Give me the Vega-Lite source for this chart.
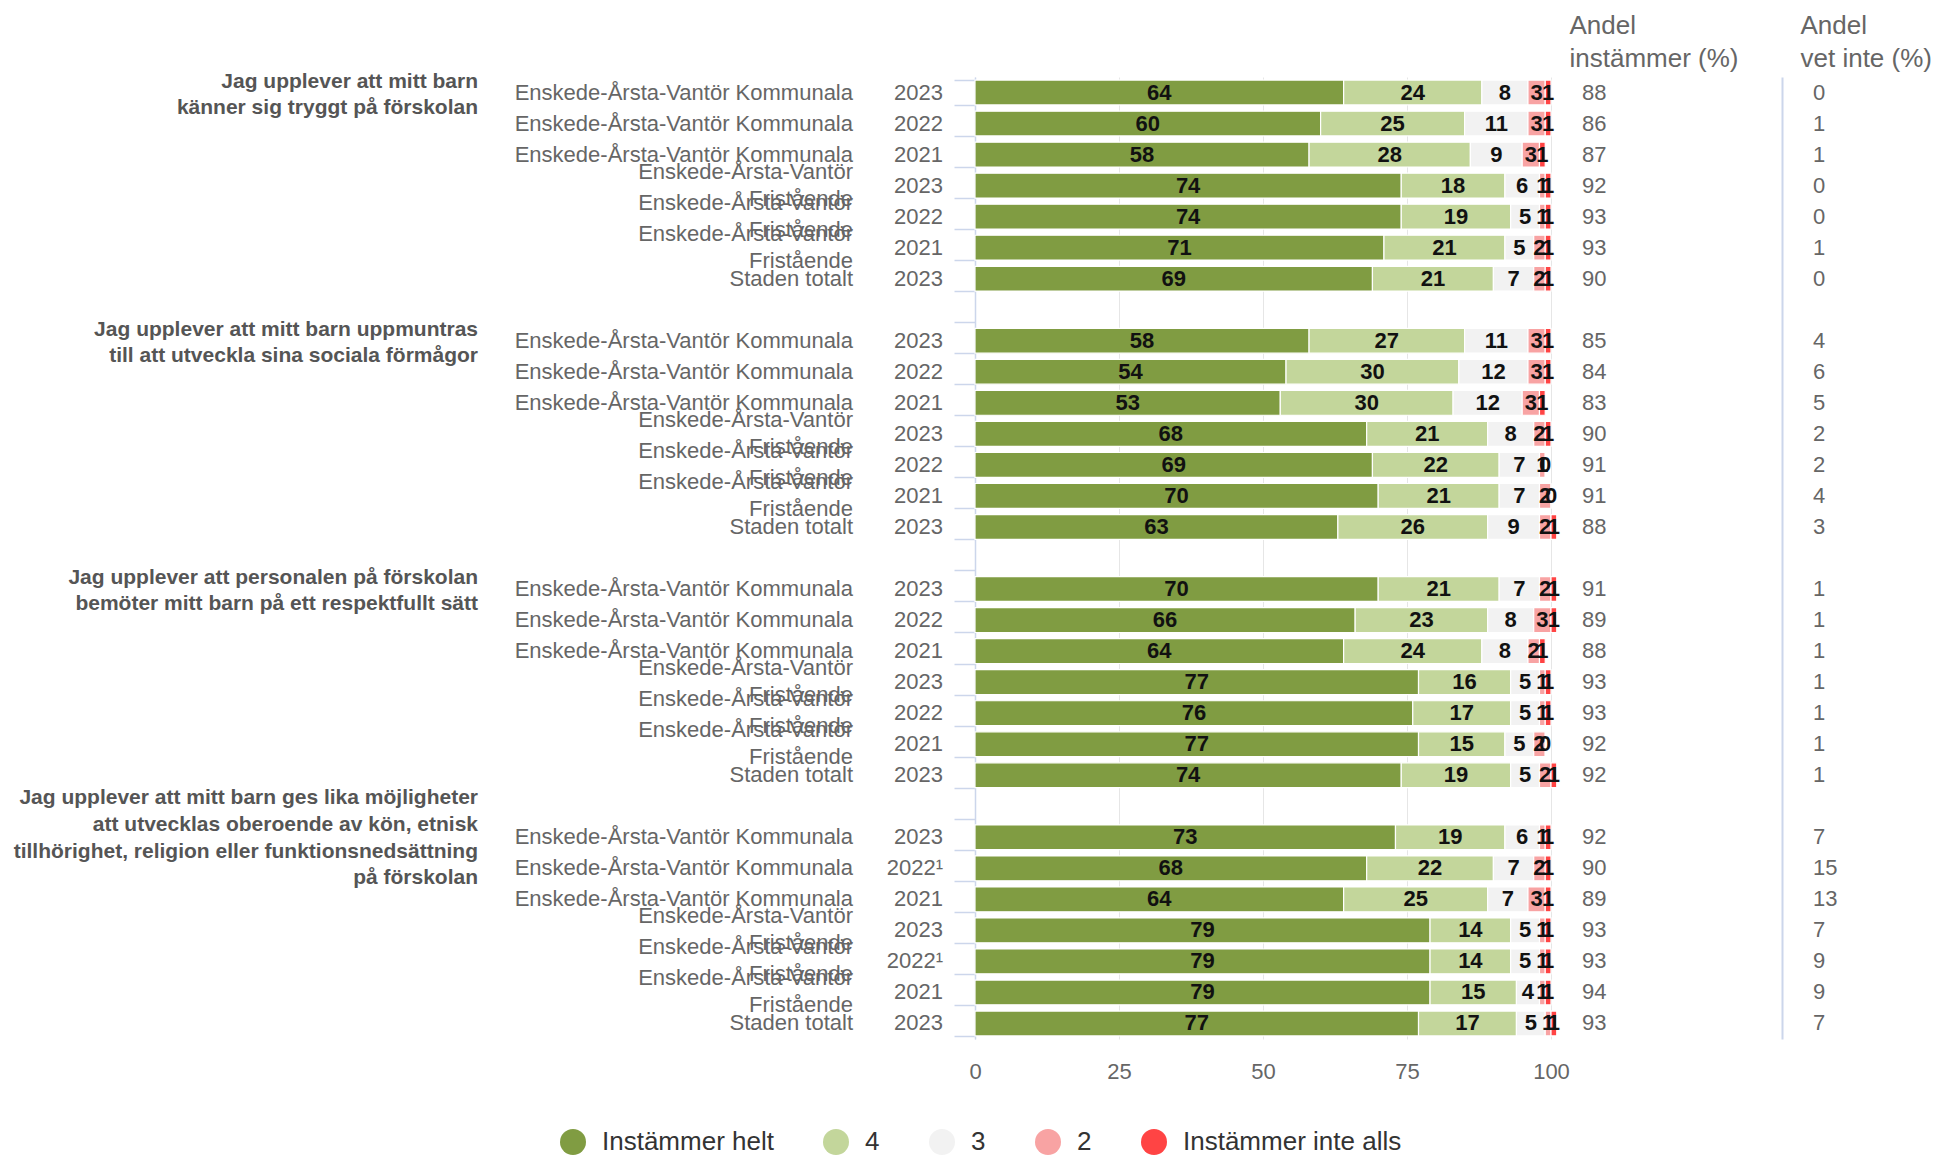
{
  "$schema": "https://vega.github.io/schema/vega-lite/v6.json",
  "autosize": {"type": "none"},
  "padding": {"left": 975, "top": 77, "right": 385, "bottom": 119},
  "width": 576,
  "height": 962,
  "background": "white",
  "config": {
    "view": {"stroke": null},
    "font": "Liberation Sans",
    "axis": {"labelFont": "Liberation Sans"},
    "legend": {"labelFont": "Liberation Sans"},
    "text": {"font": "Liberation Sans"}
  },
  "datasets": {
    "skala": [
      {"alternativ": "Instämmer helt", "svar": 5},
      {"alternativ": "4", "svar": 4},
      {"alternativ": "3", "svar": 3},
      {"alternativ": "2", "svar": 2},
      {"alternativ": "Instämmer inte alls", "svar": 1}
    ],
    "fragor": [
      {"rad": "r1", "rader_text": 2, "fraga": "Jag upplever att mitt barn\nkänner sig tryggt på förskolan"},
      {"rad": "r8", "rader_text": 2, "fraga": "Jag upplever att mitt barn uppmuntras\ntill att utveckla sina sociala förmågor"},
      {"rad": "r15", "rader_text": 2, "fraga": "Jag upplever att personalen på förskolan\nbemöter mitt barn på ett respektfullt sätt"},
      {"rad": "r22", "rader_text": 4, "fraga": "Jag upplever att mitt barn ges lika möjligheter\natt utvecklas oberoende av kön, etnisk\ntillhörighet, religion eller funktionsnedsättning\npå förskolan"}
    ],
    "rader": [
      {"rad": "r1", "enhet": "Enskede-Årsta-Vantör Kommunala", "ar": "2023", "Instämmer helt": 64, "4": 24, "3": 8, "2": 3, "Instämmer inte alls": 1, "Andel instämmer (%)": 88, "Andel vet inte (%)": 0},
      {"rad": "r2", "enhet": "Enskede-Årsta-Vantör Kommunala", "ar": "2022", "Instämmer helt": 60, "4": 25, "3": 11, "2": 3, "Instämmer inte alls": 1, "Andel instämmer (%)": 86, "Andel vet inte (%)": 1},
      {"rad": "r3", "enhet": "Enskede-Årsta-Vantör Kommunala", "ar": "2021", "Instämmer helt": 58, "4": 28, "3": 9, "2": 3, "Instämmer inte alls": 1, "Andel instämmer (%)": 87, "Andel vet inte (%)": 1},
      {"rad": "r4", "enhet": "Enskede-Årsta-Vantör Fristående", "ar": "2023", "Instämmer helt": 74, "4": 18, "3": 6, "2": 1, "Instämmer inte alls": 1, "Andel instämmer (%)": 92, "Andel vet inte (%)": 0},
      {"rad": "r5", "enhet": "Enskede-Årsta-Vantör Fristående", "ar": "2022", "Instämmer helt": 74, "4": 19, "3": 5, "2": 1, "Instämmer inte alls": 1, "Andel instämmer (%)": 93, "Andel vet inte (%)": 0},
      {"rad": "r6", "enhet": "Enskede-Årsta-Vantör Fristående", "ar": "2021", "Instämmer helt": 71, "4": 21, "3": 5, "2": 2, "Instämmer inte alls": 1, "Andel instämmer (%)": 93, "Andel vet inte (%)": 1},
      {"rad": "r7", "enhet": "Staden totalt", "ar": "2023", "Instämmer helt": 69, "4": 21, "3": 7, "2": 2, "Instämmer inte alls": 1, "Andel instämmer (%)": 90, "Andel vet inte (%)": 0},
      {"rad": "r8", "enhet": "Enskede-Årsta-Vantör Kommunala", "ar": "2023", "Instämmer helt": 58, "4": 27, "3": 11, "2": 3, "Instämmer inte alls": 1, "Andel instämmer (%)": 85, "Andel vet inte (%)": 4},
      {"rad": "r9", "enhet": "Enskede-Årsta-Vantör Kommunala", "ar": "2022", "Instämmer helt": 54, "4": 30, "3": 12, "2": 3, "Instämmer inte alls": 1, "Andel instämmer (%)": 84, "Andel vet inte (%)": 6},
      {"rad": "r10", "enhet": "Enskede-Årsta-Vantör Kommunala", "ar": "2021", "Instämmer helt": 53, "4": 30, "3": 12, "2": 3, "Instämmer inte alls": 1, "Andel instämmer (%)": 83, "Andel vet inte (%)": 5},
      {"rad": "r11", "enhet": "Enskede-Årsta-Vantör Fristående", "ar": "2023", "Instämmer helt": 68, "4": 21, "3": 8, "2": 2, "Instämmer inte alls": 1, "Andel instämmer (%)": 90, "Andel vet inte (%)": 2},
      {"rad": "r12", "enhet": "Enskede-Årsta-Vantör Fristående", "ar": "2022", "Instämmer helt": 69, "4": 22, "3": 7, "2": 1, "Instämmer inte alls": 0, "Andel instämmer (%)": 91, "Andel vet inte (%)": 2},
      {"rad": "r13", "enhet": "Enskede-Årsta-Vantör Fristående", "ar": "2021", "Instämmer helt": 70, "4": 21, "3": 7, "2": 2, "Instämmer inte alls": 0, "Andel instämmer (%)": 91, "Andel vet inte (%)": 4},
      {"rad": "r14", "enhet": "Staden totalt", "ar": "2023", "Instämmer helt": 63, "4": 26, "3": 9, "2": 2, "Instämmer inte alls": 1, "Andel instämmer (%)": 88, "Andel vet inte (%)": 3},
      {"rad": "r15", "enhet": "Enskede-Årsta-Vantör Kommunala", "ar": "2023", "Instämmer helt": 70, "4": 21, "3": 7, "2": 2, "Instämmer inte alls": 1, "Andel instämmer (%)": 91, "Andel vet inte (%)": 1},
      {"rad": "r16", "enhet": "Enskede-Årsta-Vantör Kommunala", "ar": "2022", "Instämmer helt": 66, "4": 23, "3": 8, "2": 3, "Instämmer inte alls": 1, "Andel instämmer (%)": 89, "Andel vet inte (%)": 1},
      {"rad": "r17", "enhet": "Enskede-Årsta-Vantör Kommunala", "ar": "2021", "Instämmer helt": 64, "4": 24, "3": 8, "2": 2, "Instämmer inte alls": 1, "Andel instämmer (%)": 88, "Andel vet inte (%)": 1},
      {"rad": "r18", "enhet": "Enskede-Årsta-Vantör Fristående", "ar": "2023", "Instämmer helt": 77, "4": 16, "3": 5, "2": 1, "Instämmer inte alls": 1, "Andel instämmer (%)": 93, "Andel vet inte (%)": 1},
      {"rad": "r19", "enhet": "Enskede-Årsta-Vantör Fristående", "ar": "2022", "Instämmer helt": 76, "4": 17, "3": 5, "2": 1, "Instämmer inte alls": 1, "Andel instämmer (%)": 93, "Andel vet inte (%)": 1},
      {"rad": "r20", "enhet": "Enskede-Årsta-Vantör Fristående", "ar": "2021", "Instämmer helt": 77, "4": 15, "3": 5, "2": 2, "Instämmer inte alls": 0, "Andel instämmer (%)": 92, "Andel vet inte (%)": 1},
      {"rad": "r21", "enhet": "Staden totalt", "ar": "2023", "Instämmer helt": 74, "4": 19, "3": 5, "2": 2, "Instämmer inte alls": 1, "Andel instämmer (%)": 92, "Andel vet inte (%)": 1},
      {"rad": "r22", "enhet": "Enskede-Årsta-Vantör Kommunala", "ar": "2023", "Instämmer helt": 73, "4": 19, "3": 6, "2": 1, "Instämmer inte alls": 1, "Andel instämmer (%)": 92, "Andel vet inte (%)": 7},
      {"rad": "r23", "enhet": "Enskede-Årsta-Vantör Kommunala", "ar": "2022¹", "Instämmer helt": 68, "4": 22, "3": 7, "2": 2, "Instämmer inte alls": 1, "Andel instämmer (%)": 90, "Andel vet inte (%)": 15},
      {"rad": "r24", "enhet": "Enskede-Årsta-Vantör Kommunala", "ar": "2021", "Instämmer helt": 64, "4": 25, "3": 7, "2": 3, "Instämmer inte alls": 1, "Andel instämmer (%)": 89, "Andel vet inte (%)": 13},
      {"rad": "r25", "enhet": "Enskede-Årsta-Vantör Fristående", "ar": "2023", "Instämmer helt": 79, "4": 14, "3": 5, "2": 1, "Instämmer inte alls": 1, "Andel instämmer (%)": 93, "Andel vet inte (%)": 7},
      {"rad": "r26", "enhet": "Enskede-Årsta-Vantör Fristående", "ar": "2022¹", "Instämmer helt": 79, "4": 14, "3": 5, "2": 1, "Instämmer inte alls": 1, "Andel instämmer (%)": 93, "Andel vet inte (%)": 9},
      {"rad": "r27", "enhet": "Enskede-Årsta-Vantör Fristående", "ar": "2021", "Instämmer helt": 79, "4": 15, "3": 4, "2": 1, "Instämmer inte alls": 1, "Andel instämmer (%)": 94, "Andel vet inte (%)": 9},
      {"rad": "r28", "enhet": "Staden totalt", "ar": "2023", "Instämmer helt": 77, "4": 17, "3": 5, "2": 1, "Instämmer inte alls": 1, "Andel instämmer (%)": 93, "Andel vet inte (%)": 7}
    ]
  },
  "encoding": {
    "y": {
      "field": "rad",
      "type": "nominal",
      "sort": null,
      "scale": {
        "domain": ["r1","r2","r3","r4","r5","r6","r7","g1","r8","r9","r10","r11","r12","r13","r14","g2","r15","r16","r17","r18","r19","r20","r21","g3","r22","r23","r24","r25","r26","r27","r28"],
        "paddingInner": 0.2,
        "paddingOuter": 0.1
      },
      "axis": {
        "title": null,
        "labels": false,
        "ticks": true,
        "tickBand": "extent",
        "tickSize": 21,
        "tickColor": "#ccd6eb",
        "tickWidth": 1.5,
        "domain": true,
        "domainColor": "#ccd6eb",
        "domainWidth": 1.5,
        "grid": false
      }
    }
  },
  "resolve": {"scale": {"x": "independent"}, "axis": {"x": "independent"}},
  "layer": [
    {
      "layer": [
        {
          "data": {"name": "rader"},
          "transform": [
            {"fold": ["Instämmer helt", "4", "3", "2", "Instämmer inte alls"], "as": ["alternativ", "andel"]},
            {"lookup": "alternativ", "from": {"data": {"name": "skala"}, "key": "alternativ", "fields": ["svar"]}}
          ],
          "mark": {"type": "bar", "stroke": "white", "strokeWidth": 1.2},
          "encoding": {
            "x": {
              "field": "andel",
              "type": "quantitative",
              "stack": "zero",
              "scale": {"domain": [0, 100], "nice": false},
              "axis": {
                "orient": "bottom",
                "title": null,
                "values": [0, 25, 50, 75, 100],
                "grid": true,
                "gridColor": "#e6e6e6",
                "domain": false,
                "ticks": false,
                "labelFlush": false,
                "labelFontSize": 22,
                "labelColor": "#666666",
                "labelPadding": 22
              }
            },
            "color": {
              "field": "alternativ",
              "type": "nominal",
              "scale": {
                "domain": ["Instämmer helt", "4", "3", "2", "Instämmer inte alls"],
                "range": ["#809c42", "#c3d69b", "#f2f2f2", "#f8a3a3", "#ff4444"]
              },
              "legend": {
                "title": null,
                "orient": "none",
                "legendX": -415,
                "legendY": 1052,
                "direction": "horizontal",
                "symbolType": "circle",
                "symbolSize": 676,
                "symbolStrokeWidth": 0,
                "symbolOpacity": 1,
                "labelFontSize": 26,
                "labelLimit": 400,
                "labelColor": "#333333",
                "labelOffset": 16,
                "columnPadding": 49
              }
            },
            "order": {"field": "svar", "sort": "descending"}
          }
        },
        {
          "data": {"name": "rader"},
          "transform": [
            {"fold": ["Instämmer helt", "4", "3", "2", "Instämmer inte alls"], "as": ["alternativ", "andel"]},
            {"lookup": "alternativ", "from": {"data": {"name": "skala"}, "key": "alternativ", "fields": ["svar"]}}
          ],
          "mark": {"type": "text", "fontSize": 22, "fontWeight": "bold", "color": "#111111", "baseline": "middle", "align": "center"},
          "encoding": {
            "x": {"field": "andel", "type": "quantitative", "stack": "zero", "bandPosition": 0.5},
            "text": {"field": "andel", "type": "quantitative"},
            "order": {"field": "svar", "sort": "descending"}
          }
        },
        {
          "data": {"name": "fragor"},
          "transform": [{"filter": "datum.rader_text == 2"}],
          "mark": {"type": "text", "align": "right", "baseline": "middle", "dx": -497, "dy": -11, "fontSize": 21, "fontWeight": "bold", "color": "#555555", "lineBreak": "\n", "lineHeight": 26},
          "encoding": {
            "x": {"datum": 0, "type": "quantitative"},
            "text": {"field": "fraga", "type": "nominal"}
          }
        },
        {
          "data": {"name": "fragor"},
          "transform": [{"filter": "datum.rader_text == 4"}],
          "mark": {"type": "text", "align": "right", "baseline": "middle", "dx": -497, "dy": -39, "fontSize": 21, "fontWeight": "bold", "color": "#555555", "lineBreak": "\n", "lineHeight": 26.7},
          "encoding": {
            "x": {"datum": 0, "type": "quantitative"},
            "text": {"field": "fraga", "type": "nominal"}
          }
        },
        {
          "data": {"name": "rader"},
          "transform": [{"filter": "datum.enhet != 'Enskede-Årsta-Vantör Fristående'"}],
          "mark": {"type": "text", "align": "right", "baseline": "middle", "dx": -122, "fontSize": 22, "color": "#666666"},
          "encoding": {
            "x": {"datum": 0, "type": "quantitative"},
            "text": {"field": "enhet", "type": "nominal"}
          }
        },
        {
          "data": {"name": "rader"},
          "transform": [{"filter": "datum.enhet == 'Enskede-Årsta-Vantör Fristående'"}],
          "mark": {"type": "text", "align": "right", "baseline": "middle", "dx": -122, "dy": -14, "fontSize": 22, "color": "#666666", "lineBreak": " ", "lineHeight": 27},
          "encoding": {
            "x": {"datum": 0, "type": "quantitative"},
            "text": {"field": "enhet", "type": "nominal"}
          }
        },
        {
          "data": {"name": "rader"},
          "mark": {"type": "text", "align": "right", "baseline": "middle", "dx": -32, "fontSize": 22, "color": "#666666"},
          "encoding": {
            "x": {"datum": 0, "type": "quantitative"},
            "text": {"field": "ar", "type": "nominal"}
          }
        }
      ]
    },
    {
      "data": {"name": "rader"},
      "transform": [
        {"fold": ["Andel instämmer (%)", "Andel vet inte (%)"], "as": ["matt", "varde"]}
      ],
      "mark": {"type": "text", "align": "left", "baseline": "middle", "dx": 31, "fontSize": 22, "color": "#666666"},
      "encoding": {
        "x": {
          "field": "matt",
          "type": "nominal",
          "scale": {"domain": ["Andel instämmer (%)", "Andel vet inte (%)"], "range": [460.5, 922.5], "paddingInner": 0, "paddingOuter": 0},
          "axis": {
            "orient": "top",
            "title": null,
            "labelAngle": 0,
            "labelAlign": "left",
            "labelBaseline": "middle",
            "labelOffset": 18,
            "labelPadding": 52,
            "labelFontSize": 26,
            "labelLineHeight": 33,
            "labelColor": "#666666",
            "labelExpr": "[slice(datum.label, 0, 5), slice(datum.label, 6)]",
            "ticks": false,
            "domain": false,
            "grid": true,
            "gridWidth": 2,
            "gridColor": {"condition": {"test": "datum.value === 'Andel vet inte (%)'", "value": "#ccd6eb"}, "value": "rgba(0,0,0,0)"}
          }
        },
        "text": {"field": "varde", "type": "quantitative"}
      }
    }
  ]
}
